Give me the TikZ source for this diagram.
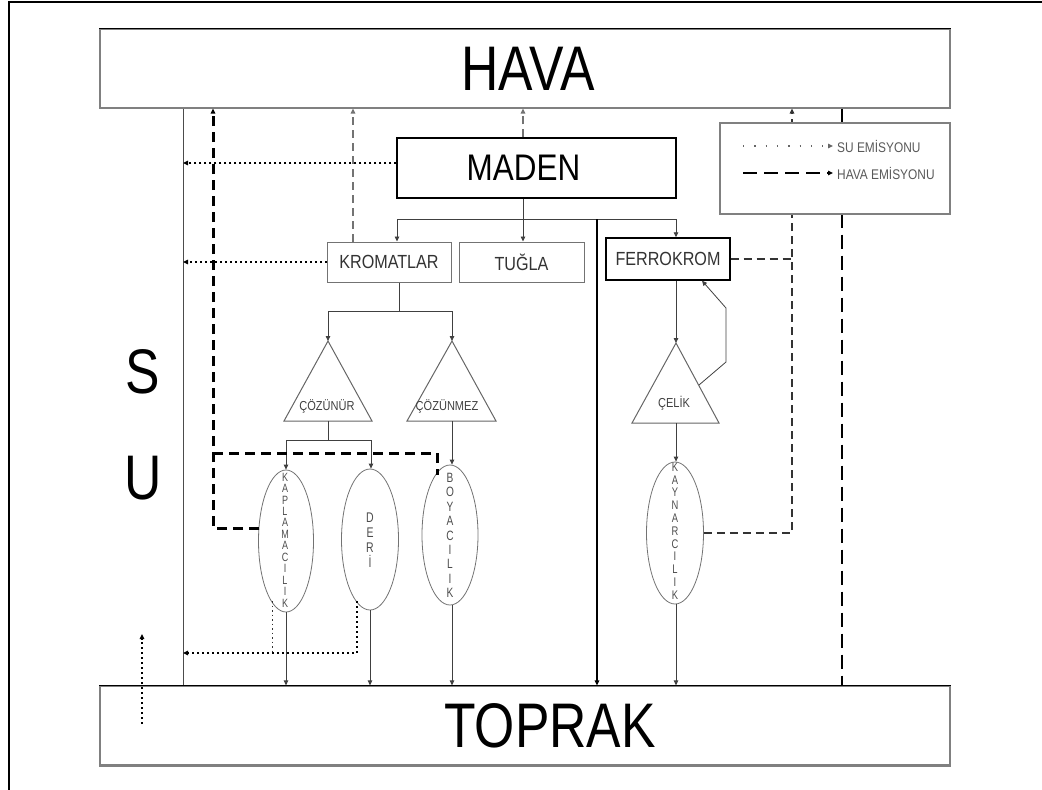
\documentclass[tikz,border=0pt]{standalone}
\usepackage{fontspec}
\setmainfont{Liberation Sans}
\newfontfamily\bigf[FakeStretch=0.82]{Liberation Sans}
\newfontfamily\nar[FakeStretch=0.85]{Liberation Sans}
\newfontfamily\ellfont[FakeStretch=0.75]{Liberation Sans}
\usetikzlibrary{arrows.meta,shapes.geometric,calc}
\begin{document}
\begin{tikzpicture}[x=1pt,y=-1pt,
  arrowend/.style={-{Triangle[length=5pt,width=4.5pt]}},
  conn/.style={draw=black!75, line width=0.8pt},
  plainbox/.style={draw=black!55, line width=1pt, inner sep=0pt, fill=white, text=black!80, font=\nar\fontsize{19}{19}\selectfont},
  boldbox/.style={draw=black, line width=1.4pt, inner sep=0pt, fill=white},
  layer/.style={draw=black!50, line width=1.2pt, inner sep=0pt, minimum width=850pt, font=\bigf\fontsize{63}{63}\selectfont},
  bigletter/.style={font=\bigf\fontsize{63}{63}\selectfont, inner sep=0pt},
  wdot/.style={draw=black, line width=2pt, dash pattern=on 2pt off 3pt},
  thindot/.style={draw=black!80, line width=1pt, dash pattern=on 1.5pt off 3pt},
  hdash/.style={draw=black!55, line width=2pt, dash pattern=on 8pt off 5pt},
  kdash/.style={draw=black, line width=3pt, dash pattern=on 10pt off 6pt},
  mdash/.style={draw=black!80, line width=1.8pt, dash pattern=on 8pt off 5pt},
  ldash/.style={draw=black, line width=1.5pt, dash pattern=on 14pt off 7pt},
  tri/.style={draw=black!60, line width=1pt},
  tritext/.style={font=\nar\fontsize{13}{13}\selectfont, text=black!75, inner sep=0pt},
  ell/.style={ellipse, draw=black!55, line width=0.8pt, inner sep=0pt},
  letters/.style={text=black!70, align=center, inner sep=0pt},
  legtext/.style={font=\nar\fontsize{14}{14}\selectfont, text=black!65, inner sep=0pt, anchor=west},
  legdot/.style={draw=black!60, line width=1.3pt, dash pattern=on 1.3pt off 10pt},
  legdash/.style={draw=black, line width=1.5pt, dash pattern=on 14pt off 7pt},
]
\useasboundingbox (0,0) rectangle (1042,790);
% page frame
\draw[black, line width=1.6pt] (9,790) -- (9,2) -- (1042,2);

% layers
\node[layer, minimum height=79pt] (hava) at (525,68.5) {\hspace*{6pt}HAVA};
\draw[black, line width=1.6pt] (hava.north west) -- (hava.north east);
\node[layer, minimum height=79pt] (toprak) at (525,725.5) {\hspace*{50pt}TOPRAK};
\draw[black, line width=1.6pt] (toprak.north west) -- (toprak.north east);
\draw[black!50, line width=3pt] (toprak.south west) -- (toprak.south east);

\node[bigletter] (s) at (143,372) {S};
\node[bigletter] (u) at (143,478) {U};

% boxes
\node[boldbox, minimum width=279pt, minimum height=60pt, font=\nar\fontsize{37}{37}\selectfont] (maden) at (536.5,168) {MADEN\hspace*{26pt}};
\node[plainbox, minimum width=124pt, minimum height=40pt] (krom) at (389,262) {KROMATLAR};
\node[plainbox, minimum width=125pt, minimum height=40pt] (tugla) at (521.5,262) {TUĞLA};
\node[plainbox, draw=black, line width=1.4pt, minimum width=124pt, minimum height=42pt] (ferro) at (668,259) {FERROKROM};

% triangles
\coordinate (t1a) at (328,341); \coordinate (t1b) at (328,421);
\coordinate (t2a) at (452,341); \coordinate (t2b) at (452,421);
\coordinate (t3a) at (676,343); \coordinate (t3b) at (676,423);
\draw[tri] (t1a) -- (284,421) -- (372,421) -- cycle;
\draw[tri] (t2a) -- (407,421) -- (496,421) -- cycle;
\draw[tri] (t3a) -- (632,423) -- (719,423) -- cycle;
\node[tritext] (t1t) at (327,406) {ÇÖZÜNÜR};
\node[tritext] (t2t) at (447,406) {ÇÖZÜNMEZ};
\node[tritext] (t3t) at (674,403) {ÇELİK};

% ellipses
\node[ell, minimum width=55pt, minimum height=142pt] (e1) at (286,541) {};
\node[ell, minimum width=57pt, minimum height=141pt] (e2) at (370,539.5) {};
\node[ell, minimum width=56pt, minimum height=140pt] (e3) at (450,535) {};
\node[ell, minimum width=57pt, minimum height=142pt] (e4) at (675,533) {};
\node[letters, font=\ellfont\fontsize{12}{11.45}\selectfont] (e1t) at (285,540) {K\\A\\P\\L\\A\\M\\A\\C\\I\\L\\I\\K};
\node[letters, font=\ellfont\fontsize{14}{15}\selectfont] (e2t) at (370,540) {D\\E\\R\\İ};
\node[letters, font=\ellfont\fontsize{13.5}{14.4}\selectfont] (e3t) at (450,535.5) {B\\O\\Y\\A\\C\\I\\L\\I\\K};
\node[letters, font=\ellfont\fontsize{12.5}{12.8}\selectfont] (e4t) at (675,531) {K\\A\\Y\\N\\A\\R\\C\\I\\L\\I\\K};

% helper coordinates
\coordinate (sux) at (183,0);
\coordinate (kx) at (353,0);
\coordinate (tx) at (523,0);
\coordinate (gx) at (792,0);
\coordinate (dx) at (842,0);
\coordinate (fx) at (702,0);

% SU line
\draw[black!70, line width=0.8pt] (hava.south -| sux) -- (toprak.north -| sux);

% solid connectors
\coordinate (bl) at (397,219); \coordinate (br) at (676,219); \coordinate (bm) at (597,219);
\draw[conn] (bl) -- (br);
\draw[conn, arrowend] (bl) -- (bl |- krom.north);
\draw[conn, arrowend] (br) -- (br |- ferro.north);
\draw[conn, line width=1.2pt, draw=black, arrowend] (bm) -- (bm |- toprak.north);
\draw[conn, arrowend] (maden.south -| tx) -- (tugla.north -| tx);

\coordinate (kb) at (399,311); \coordinate (kl) at (328,311); \coordinate (kr) at (452,311);
\draw[conn] (krom.south -| kb) -- (kb);
\draw[conn] (kl) -- (kr);
\draw[conn, arrowend] (kl) -- (t1a);
\draw[conn, arrowend] (kr) -- (t2a);

\coordinate (sb) at (328,440); \coordinate (sl) at (286,440); \coordinate (sr) at (371,440);
\draw[conn] (t1b) -- (sb);
\draw[conn] (sl) -- (sr);
\draw[conn, arrowend] (sl) -- (sl |- e1.north);
\draw[conn, arrowend] (sr) -- (sr |- e2.north);
\draw[conn, arrowend] (t2b) -- (t2b |- e3.north);

\draw[conn, arrowend] (ferro.south -| t3a) -- (t3a);
\draw[conn, arrowend] (t3b) -- (t3b |- e4.north);
\coordinate (f1) at (699,385); \coordinate (f2) at (726,362); \coordinate (f3) at (726,308);
\draw[conn, arrowend] (f1) -- (f2) -- (f3) -- (ferro.south -| fx);

\draw[conn, arrowend] (e1.south) -- (e1.south |- toprak.north);
\draw[conn, arrowend] (e2.south) -- (e2.south |- toprak.north);
\draw[conn, arrowend] (e3.south -| t2b) -- (t2b |- toprak.north);
\draw[conn, arrowend] (e4.south -| t3b) -- (t3b |- toprak.north);

% air emissions (dashed)
\draw[hdash, arrowend] (maden.north -| tx) -- (hava.south -| tx);
\draw[hdash, arrowend] (krom.north -| kx) -- (hava.south -| kx);
\coordinate (k1) at (213,528); \coordinate (e1w) at (259,528);
\draw[kdash, arrowend] (e1w) -- (k1) -- (hava.south -| k1);
\coordinate (k2) at (213,453); \coordinate (k3) at (437,453); \coordinate (e3nw) at (437,475);
\draw[kdash] (k2) -- (k3) -- (e3nw);
\draw[mdash] (ferro.east) -- (ferro.east -| gx);
\draw[mdash, arrowend] (e4.east) -- (e4.east -| gx) -- (hava.south -| gx);
\draw[ldash] (hava.south -| dx) -- (toprak.north -| dx);

% water emissions (dotted)
\draw[wdot, arrowend] ([yshift=5pt]maden.west) -- ([yshift=5pt]maden.west -| sux);
\draw[wdot, arrowend] (krom.west) -- (krom.west -| sux);
\coordinate (d1) at (272,601); \coordinate (d1b) at (272,653);
\coordinate (d2) at (357,601); \coordinate (d2b) at (357,653);
\draw[thindot] (d1) -- (d1b);
\draw[wdot, arrowend] (d2) -- (d2b) -- (d2b -| sux);
\coordinate (sa) at (142,724); \coordinate (sz) at (142,634);
\draw[wdot, arrowend] (sa) -- (sz);

% legend
\node[draw=black!50, line width=1.2pt, fill=white, minimum width=230pt, minimum height=91pt, inner sep=0pt] (legend) at (835,168.5) {};
\coordinate (l1a) at (743,146); \coordinate (l1b) at (833,146);
\coordinate (l2a) at (743,173); \coordinate (l2b) at (833,173);
\draw[legdot, arrowend] (l1a) -- (l1b);
\draw[legdash, arrowend] (l2a) -- (l2b);
\node[legtext] (lt1) at (837,146) {SU EMİSYONU};
\node[legtext] (lt2) at (837,173) {HAVA EMİSYONU};
\end{tikzpicture}
\end{document}
